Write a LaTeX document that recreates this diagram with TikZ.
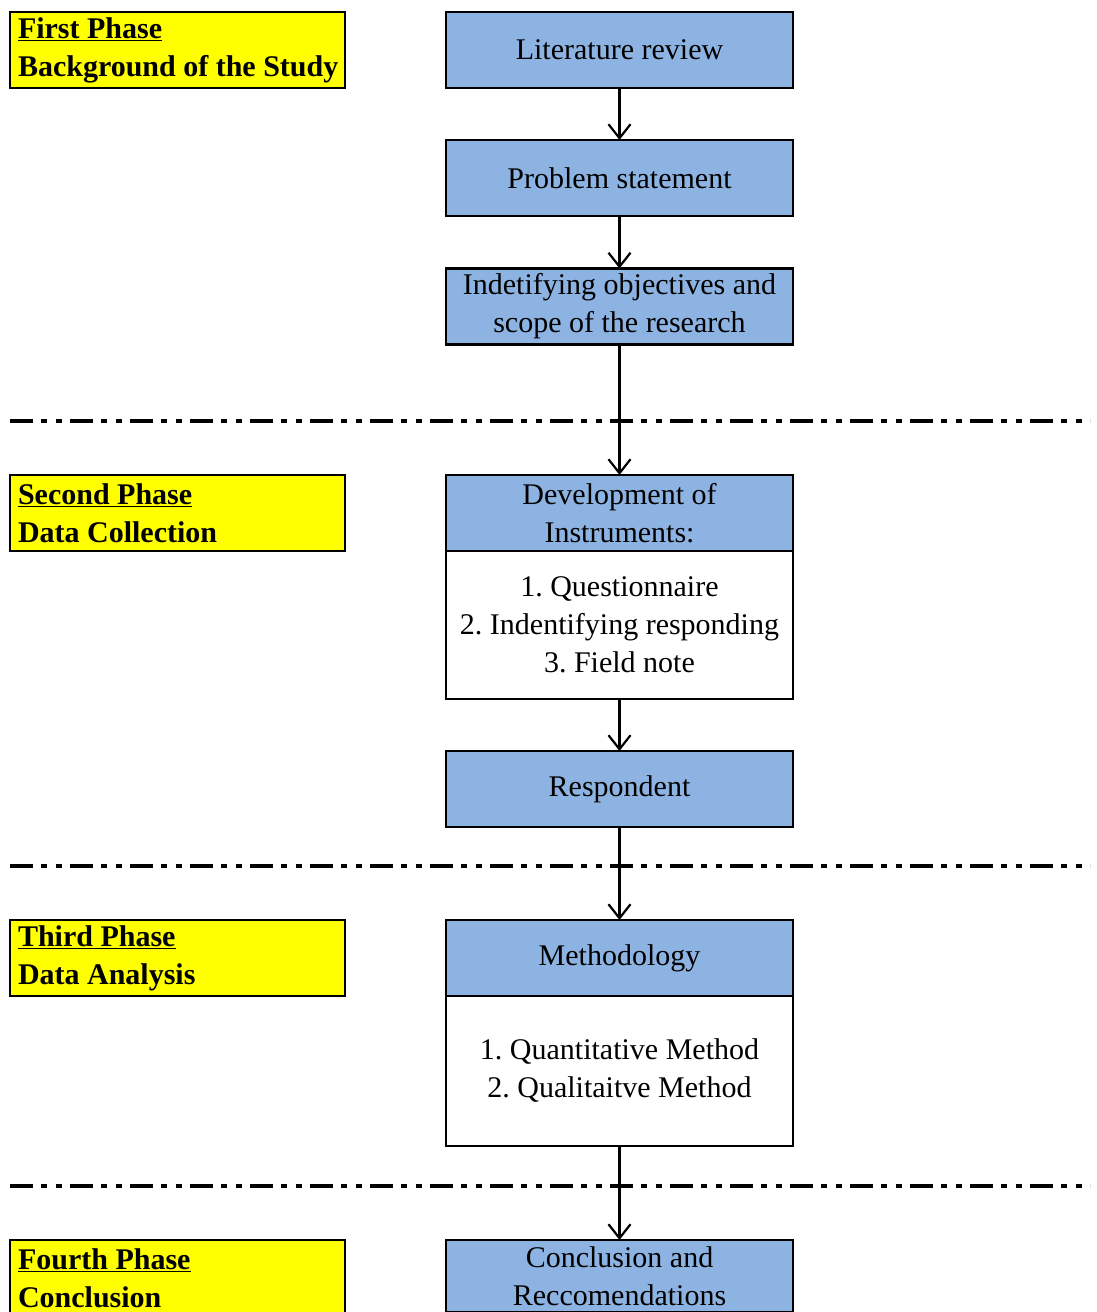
\documentclass[tikz,border=0pt]{standalone}
\usepackage{fontspec}
\setmainfont{Liberation Serif}
\usetikzlibrary{arrows.meta}
\definecolor{boxblue}{RGB}{141,179,226}
\definecolor{phaseyellow}{RGB}{255,255,0}
\newcommand{\normsp}{\spaceskip=0pt\xspaceskip=0pt\relax}
\begin{document}
\frenchspacing
\begin{tikzpicture}[x=1pt,y=-1pt,
  every node/.style={font=\fontsize{30}{38}\selectfont},
  bluebox/.style={draw=black,line width=2.4pt,outer sep=0pt,fill=boxblue,minimum width=347pt,minimum height=76pt,align=center,inner sep=2pt,anchor=north},
  whitebox/.style={draw=black,line width=2.4pt,outer sep=0pt,fill=white,minimum width=347pt,align=center,inner sep=2pt,anchor=north},
  phasebox/.style={draw=black,line width=2.4pt,outer sep=0pt,fill=phaseyellow,minimum width=335pt,minimum height=76pt,align=left,inner xsep=0pt,inner ysep=0pt,anchor=north west,text width=335pt,font=\fontsize{30}{38}\selectfont\bfseries},
  arr/.style={line width=2.2pt,-{Straight Barb[length=14pt,width=22pt]}},
  sep/.style={line width=4pt,dash pattern=on 23pt off 8pt on 6pt off 9pt on 6pt off 8pt}
]
\path[use as bounding box,fill=white] (0,0) rectangle (1096,1312);
\clip (0,0) rectangle (1096,1312);

% separators
\coordinate (s1a) at (10,421); \coordinate (s1b) at (1090,421);
\coordinate (s2a) at (10,866); \coordinate (s2b) at (1090,866);
\coordinate (s3a) at (10,1186); \coordinate (s3b) at (1090,1186);
\draw[sep] (s1a) -- (s1b);
\draw[sep] (s2a) -- (s2b);
\draw[sep] (s3a) -- (s3b);

% phase boxes
\node[phasebox] (y1) at (10,12) {\normsp\hspace*{8pt}\underline{First Phase}\\\hspace*{8pt}Background of the Study};
\node[phasebox] (y2) at (10,475) {\normsp\hspace*{8pt}\underline{Second Phase}\\\hspace*{8pt}Data Collection};
\node[phasebox] (y3) at (10,920) {\normsp\hspace*{8pt}\underline{Third Phase}\\\hspace*{8pt}Data Analysis};
\node[phasebox] (y4) at (10,1240) {\normsp\hspace*{8pt}\underline{Fourth Phase}\\\hspace*{8pt}Conclusion};

% flow boxes
\node[bluebox] (b1) at (619.5,12) {Literature review};
\node[bluebox] (b2) at (619.5,140) {Problem statement};
\node[bluebox] (b3) at (619.5,268.5) {Indetifying objectives and\\scope of the research};
\node[bluebox] (b4) at (619.5,475) {Development of\\Instruments:};
\node[whitebox,minimum height=148pt] (b4b) at (b4.south) {1. Questionnaire\\2. Indentifying responding\\3. Field note};
\node[bluebox] (b5) at (619.5,751) {Respondent};
\node[bluebox] (b6) at (619.5,920) {Methodology};
\node[whitebox,minimum height=150pt] (b6b) at (b6.south) {1. Quantitative Method\\2. Qualitaitve Method};
\node[bluebox,minimum height=72pt] (b7) at (619.5,1240) {Conclusion and\\Reccomendations};

% connectors
\draw[arr] (b1.south) -- (b2.north);
\draw[arr] (b2.south) -- (b3.north);
\draw[arr] (b3.south) -- (b4.north);
\draw[arr] (b4b.south) -- (b5.north);
\draw[arr] (b5.south) -- (b6.north);
\draw[arr] (b6b.south) -- (b7.north);
\end{tikzpicture}
\end{document}
